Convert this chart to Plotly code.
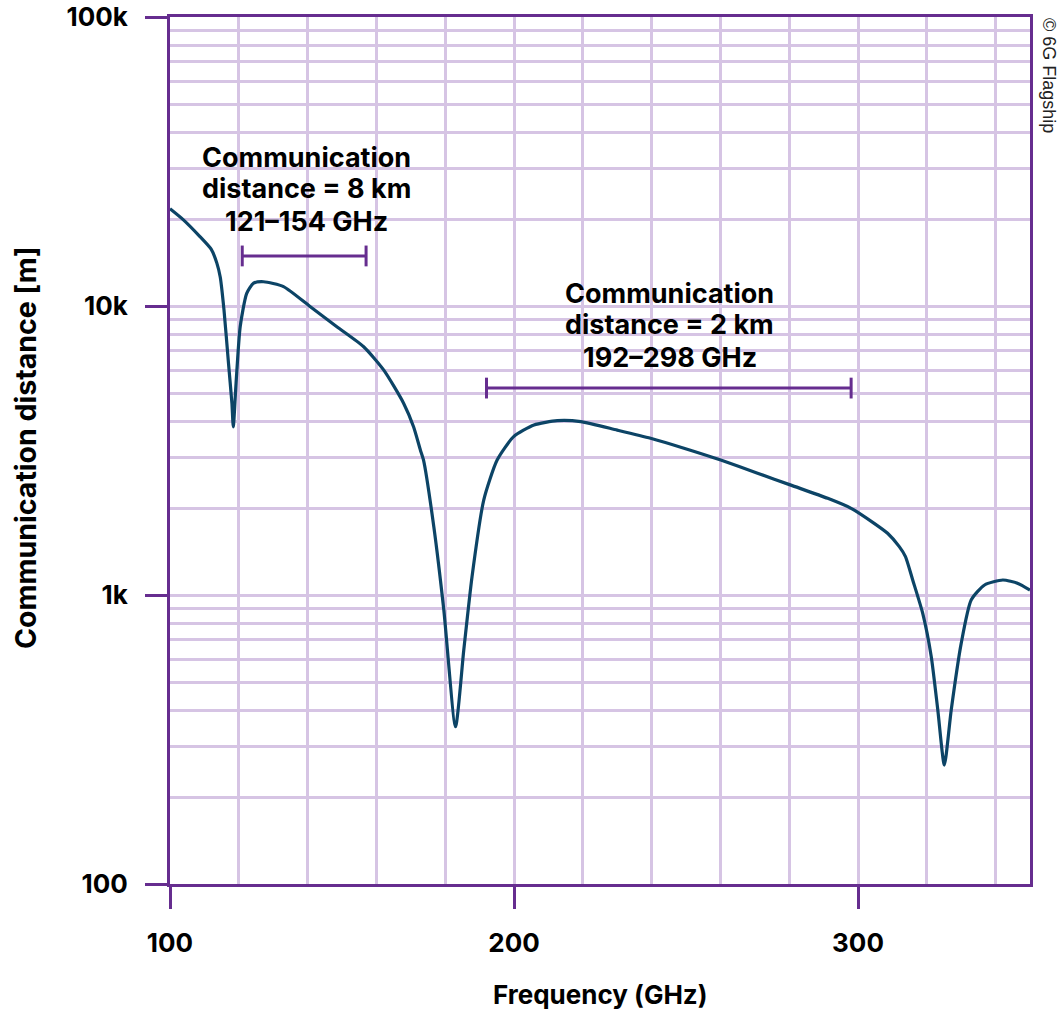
import plotly.graph_objects as go

# ---- data ----
freq_ghz = [100, 103.9, 108.7, 112, 113.6, 114.6, 115.7, 117.0, 118.0, 118.4, 119.2, 120.4,
            122.3, 124.3, 127.2, 133.0, 140.8, 148.5, 156.3, 162.1, 167.9, 170.8,
            172.8, 173.7, 176.7, 179.6, 183.0, 185.4, 187.8, 191.2, 195.1, 199.9, 205.8,
            212.6, 219.4, 230.0, 239.7, 249.4, 260.1, 270.8, 280.5, 291.2, 298.0, 304.7,
            308.6, 312.0, 313.8, 315.9, 318.8, 321.3, 323.2, 325.1, 327.1, 330.0, 332.9,
            336.8, 342.1, 346.5, 350]
distance_m = [21700, 19860, 17380, 15700, 14100, 12600, 9680, 6340, 4600, 3820, 5400, 8480,
              11060, 11990, 12130, 11670, 9940, 8480, 7230, 6010, 4610, 3820,
              3170, 2930, 1720, 887, 350, 645, 1157, 2130, 2930, 3530, 3875,
              4010, 3980, 3720, 3486, 3220, 2930, 2640, 2400, 2160, 1995, 1770,
              1635, 1470, 1358, 1127, 865, 612, 400, 258, 400, 680, 961,
              1083, 1127, 1097, 1040]

band_start_ghz = [121, 192]
band_end_ghz = [157, 298]
band_level_m = [14900, 5200]
band_label_lines = [["Communication", "distance = 8 km", "121–154 GHz"],
                    ["Communication", "distance = 2 km", "192–298 GHz"]]
band_label_x = [139.6, 245.3]

x_tickvals = [100, 200, 300]
x_ticktext = ["100", "200", "300"]
y_tickvals = [100, 1000, 10000, 100000]
y_ticktext = ["100", "1k", "10k", "100k"]

# ---- styles ----
PURPLE = "#662D8F"
GRID = "#D6C4E4"
LINE = "#0C4466"
FONT = "Inter"

fig = go.Figure()

fig.add_trace(go.Scatter(x=freq_ghz, y=distance_m, mode="lines",
                         line=dict(color=LINE, width=3.2, shape="spline", smoothing=0.6),
                         hoverinfo="skip", showlegend=False))

# brackets
cap = 10 ** 0.036
for s, e, lvl in zip(band_start_ghz, band_end_ghz, band_level_m):
    fig.add_trace(go.Scatter(
        x=[s, e, None, s, s, None, e, e],
        y=[lvl, lvl, None, lvl / cap, lvl * cap, None, lvl / cap, lvl * cap],
        mode="lines", line=dict(color=PURPLE, width=3),
        hoverinfo="skip", showlegend=False))

label_top_px = [157, 293]
LINE_GAP = 32
annotations = []
for lines, xc, top in zip(band_label_lines, band_label_x, label_top_px):
    for i, txt in enumerate(lines):
        ypx = top + i * LINE_GAP
        annotations.append(dict(text=txt, x=xc, xref="x",
                                y=(884 - ypx) / 867, yref="paper", showarrow=False,
                                font=dict(family=FONT, size=27, color="black", weight="bold"),
                                xanchor="center", yanchor="middle"))
# axis titles
annotations.append(dict(text="Communication distance [m]", x=(25 - 170) / 860, xref="paper",
                        y=(884 - 448) / 867, yref="paper", textangle=-90, showarrow=False,
                        font=dict(family=FONT, size=28.5, color="black", weight="bold"),
                        xanchor="center", yanchor="middle"))
annotations.append(dict(text="Frequency (GHz)", x=0.5, xref="paper",
                        y=(884 - 994) / 867, yref="paper", showarrow=False,
                        font=dict(family=FONT, size=26, color="black", weight="bold"),
                        xanchor="center", yanchor="middle", borderpad=0))
annotations.append(dict(text="© 6G Flagship", x=(1049 - 170) / 860, xref="paper",
                        y=(884 - 75) / 867, yref="paper", textangle=90, showarrow=False,
                        font=dict(family="Liberation Sans", size=18, color="#222222"),
                        xanchor="center", yanchor="middle"))

fig.update_layout(
    width=1062, height=1012,
    margin=dict(l=170, r=32, t=17, b=128, autoexpand=False),
    paper_bgcolor="white", plot_bgcolor="white",
    font=dict(family=FONT, color="black"),
    annotations=annotations,
    showlegend=False,
)

fig.update_xaxes(
    range=[100, 350], tickvals=x_tickvals, ticktext=x_ticktext,
    showline=True, linecolor=PURPLE, linewidth=3, mirror=True,
    ticks="outside", ticklen=22, tickwidth=3, tickcolor=PURPLE,
    tickfont=dict(family=FONT, size=26, color="black", weight="bold"),
    ticklabelstandoff=12,
    showgrid=True, gridcolor=GRID, gridwidth=2.5, zeroline=False,
    minor=dict(dtick=20, tick0=100, showgrid=True, gridcolor=GRID, gridwidth=2.5, ticks=""),
)
fig.update_yaxes(
    type="log", range=[2, 5], tickvals=y_tickvals, ticktext=y_ticktext,
    showline=True, linecolor=PURPLE, linewidth=3, mirror=True,
    ticks="outside", ticklen=22, tickwidth=3, tickcolor=PURPLE,
    tickfont=dict(family=FONT, size=26, color="black", weight="bold"),
    ticklabelstandoff=12,
    showgrid=True, gridcolor=GRID, gridwidth=2.5, zeroline=False,
    minor=dict(dtick="D1", showgrid=True, gridcolor=GRID, gridwidth=2.5, ticks=""),
)

fig.write_html("out.html")
